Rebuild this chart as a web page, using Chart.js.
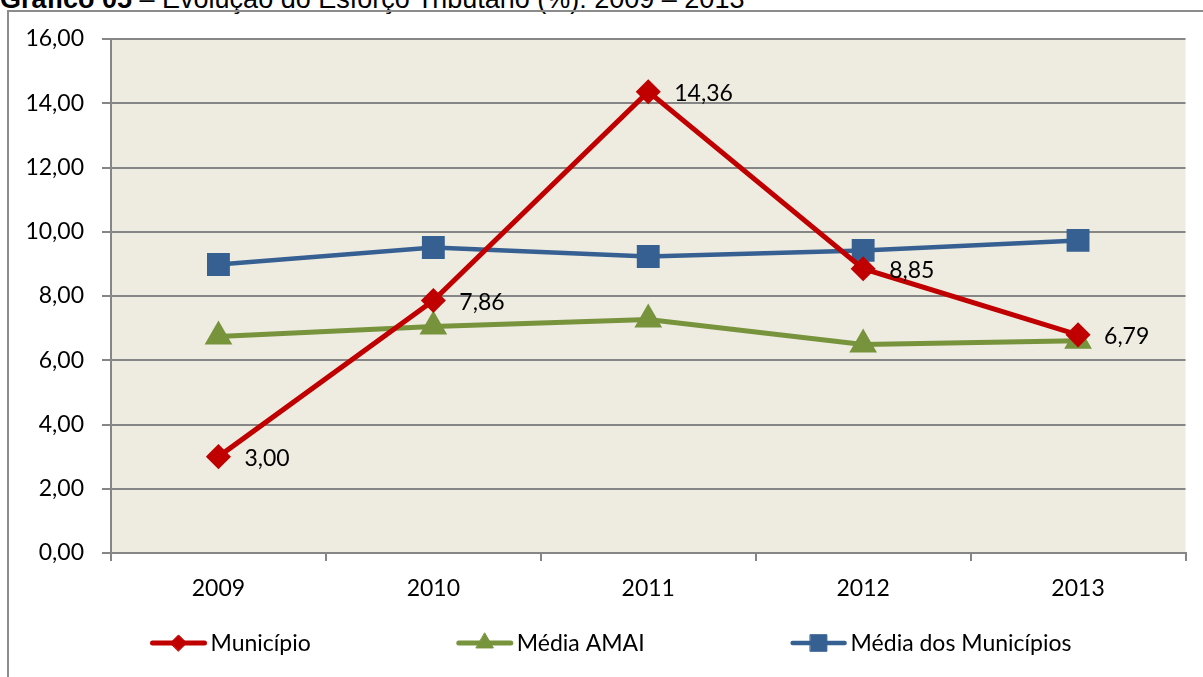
<!DOCTYPE html>
<html lang="pt">
<head>
<meta charset="utf-8">
<title>Esforço Tributário</title>
<script src="https://cdn.jsdelivr.net/npm/chart.js@4.4.1/dist/chart.umd.min.js"></script>
<style>
  html, body { margin: 0; padding: 0; background: #fff; overflow: hidden; }
  body { width: 1203px; height: 677px; position: relative; }
  .title {
    position: absolute; left: 0; top: -14px; white-space: nowrap; line-height: 27px;
    font-family: 'Liberation Sans', Arial, sans-serif; font-size: 27px; color: #000;
  }
  .frame {
    position: absolute; left: 7px; top: 10px; width: 1220px; height: 700px;
    border: 2px solid #8c8c8c; box-sizing: border-box;
  }
  #wrap { position: absolute; left: 0; top: 0; width: 1203px; height: 677px; }
</style>
</head>
<body>
<div class="title"><b>Gráfico 05</b> – Evolução do Esforço Tributário (%): 2009 – 2013</div>
<div class="frame"></div>
<div id="wrap"><canvas id="chart"></canvas></div>
<script>
/* ---- DATA ---- */
const years = ['2009', '2010', '2011', '2012', '2013'];
const municipio = [3.00, 7.86, 14.36, 8.85, 6.79];
const mediaAmai = [6.74, 7.05, 7.27, 6.49, 6.61];
const mediaMunicipios = [8.98, 9.51, 9.23, 9.42, 9.73];
const seriesNames = ['Município', 'Média AMAI', 'Média dos Municípios'];
const yTicks = [0, 2, 4, 6, 8, 10, 12, 14, 16];

const FONT = 'Lato, "Open Sans", sans-serif';
const FONT_SIZE = 23;
const fmt = v => v.toFixed(2).replace('.', ',');

// ---- PLOT BACKGROUND ----
const plotBg = {
  id: 'plotBg',
  beforeDraw(chart) {
    const { ctx, chartArea: a } = chart;
    ctx.save();
    ctx.fillStyle = '#EEEBE0';
    ctx.fillRect(a.left, a.top, a.right - a.left, a.bottom - a.top);
    ctx.restore();
  },
};

// ---- DATA LABELS (Município only) ----
const valueLabels = {
  id: 'valueLabels',
  afterDatasetsDraw(chart) {
    const { ctx } = chart;
    const meta = chart.getDatasetMeta(0);
    ctx.save();
    ctx.font = `${FONT_SIZE}px ${FONT}`;
    ctx.fillStyle = '#000';
    ctx.textAlign = 'left';
    ctx.textBaseline = 'middle';
    meta.data.forEach((pt, i) => {
      ctx.fillText(fmt(municipio[i]), pt.x + 26, pt.y + 2);
    });
    ctx.restore();
  },
};

// ---- LEGEND (line + marker, Excel style) ----
const lineLegend = {
  id: 'lineLegend',
  afterDraw(chart) {
    const { ctx } = chart;
    const lineW = 56, textGap = 4, itemGap = 146, cx = 611, cy = 643;
    ctx.save();
    ctx.font = `${FONT_SIZE}px ${FONT}`;
    const items = chart.data.datasets.map(ds => ({ ds, w: lineW + textGap + ctx.measureText(ds.label).width }));
    const total = items.reduce((s, it) => s + it.w, 0) + itemGap * (items.length - 1);
    let x = cx - total / 2;
    items.forEach(({ ds, w }) => {
      ctx.strokeStyle = ds.borderColor;
      ctx.lineWidth = ds.borderWidth;
      ctx.lineCap = 'round';
      ctx.beginPath();
      ctx.moveTo(x + 2, cy);
      ctx.lineTo(x + lineW - 2, cy);
      ctx.stroke();
      ctx.fillStyle = ds.pointBackgroundColor;
      ctx.strokeStyle = ds.pointBorderColor;
      ctx.lineWidth = 1;
      Chart.helpers.drawPoint(ctx, { pointStyle: ds.pointStyle, radius: ds.pointRadius * 0.9, borderWidth: 1 }, x + lineW / 2, cy);
      ctx.fillStyle = '#000';
      ctx.textAlign = 'left';
      ctx.textBaseline = 'middle';
      ctx.fillText(ds.label, x + lineW + textGap, cy + 1);
      x += w + itemGap;
    });
    ctx.restore();
  },
};

const ctx = document.getElementById('chart').getContext('2d');
new Chart(ctx, {
  type: 'line',
  data: {
    labels: years,
    datasets: [
      {
        label: seriesNames[0], data: municipio,
        borderColor: '#C00000', borderWidth: 5,
        pointStyle: 'rectRot', pointRadius: 9,
        pointBackgroundColor: '#C00000', pointBorderColor: '#C00000',
        order: 0,
      },
      {
        label: seriesNames[1], data: mediaAmai,
        borderColor: '#77933C', borderWidth: 5,
        pointStyle: 'triangle', pointRadius: 11,
        pointBackgroundColor: '#77933C', pointBorderColor: '#77933C',
        order: 2,
      },
      {
        label: seriesNames[2], data: mediaMunicipios,
        borderColor: '#376092', borderWidth: 4.5,
        pointStyle: 'rect', pointRadius: 13,
        pointBackgroundColor: '#376092', pointBorderColor: '#376092',
        order: 1,
      },
    ],
  },
  options: {
    responsive: true,
    maintainAspectRatio: false,
    animation: false,
    layout: { padding: { left: 0, top: 39, right: 17, bottom: 0 } },
    plugins: { legend: { display: false }, tooltip: { enabled: false } },
    elements: { line: { tension: 0, borderJoinStyle: 'miter' }, point: { borderWidth: 1 } },
    scales: {
      x: {
        offset: true,
        grid: { offset: true, drawOnChartArea: false, drawTicks: true, tickLength: 8, color: '#868686', lineWidth: 2 },
        border: { color: '#868686', width: 2 },
        ticks: { color: '#000', font: { family: FONT, size: FONT_SIZE }, padding: 14 },
        afterFit: s => { s.height = 124; },
      },
      y: {
        min: 0, max: 16,
        afterBuildTicks: s => { s.ticks = yTicks.map(v => ({ value: v })); },
        grid: { color: '#868686', lineWidth: 2, tickLength: 9 },
        border: { color: '#868686', width: 2 },
        ticks: { color: '#000', font: { family: FONT, size: FONT_SIZE }, padding: 18, callback: v => fmt(v) },
        afterFit: s => { s.width = 111; },
      },
    },
  },
  plugins: [plotBg, valueLabels, lineLegend],
});
</script>
</body>
</html>
